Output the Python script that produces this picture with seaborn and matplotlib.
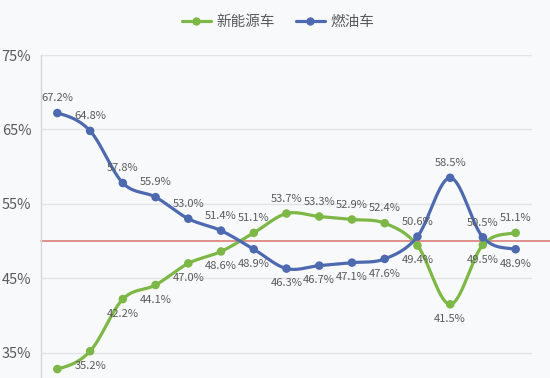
import numpy as np
import pandas as pd
import matplotlib
matplotlib.use("Agg")
import matplotlib.pyplot as plt
from matplotlib.lines import Line2D
import seaborn as sns

# share of sales per period (%)
periods = list(range(15))
ev_share = [32.8, 35.2, 42.2, 44.1, 47.0, 48.6, 51.1, 53.7, 53.3, 52.9, 52.4, 49.4, 41.5, 49.5, 51.1]
ice_share = [67.2, 64.8, 57.8, 55.9, 53.0, 51.4, 48.9, 46.3, 46.7, 47.1, 47.6, 50.6, 58.5, 50.5, 48.9]
series_names = ["新能源车", "燃油车"]
y_ticks = [35, 45, 55, 65, 75]

GREEN = "#7db846"
BLUE = "#4d69b0"
TEXT = "#5a5a5a"
BG = "#f8f9fb"
Y_MIN, Y_MAX = 31.6, 75


def smooth(x, y, n=24):
    # catmull-rom curve through the points, only for drawing the line
    x = np.asarray(x, float)
    y = np.asarray(y, float)
    xs, ys = [], []
    for i in range(len(y) - 1):
        p0 = y[i - 1] if i > 0 else y[i]
        p1, p2 = y[i], y[i + 1]
        p3 = y[i + 2] if i + 2 < len(y) else y[i + 1]
        t = np.linspace(0, 1, n, endpoint=False)
        seg = 0.5 * (2 * p1 + (-p0 + p2) * t + (2 * p0 - 5 * p1 + 4 * p2 - p3) * t ** 2
                     + (-p0 + 3 * p1 - 3 * p2 + p3) * t ** 3)
        xs.append(x[i] + (x[i + 1] - x[i]) * t)
        ys.append(seg)
    xs.append([x[-1]])
    ys.append([y[-1]])
    return np.concatenate(xs), np.concatenate(ys)


sns.set_theme(style="whitegrid")
plt.rcParams["font.family"] = ["Noto Sans CJK SC", "DejaVu Sans"]

fig = plt.figure(figsize=(5.5, 3.78), dpi=100, facecolor=BG)
ax = fig.add_axes([41 / 550, 0, 491 / 550, 1 - 55 / 378])
ax.set_facecolor(BG)

df = pd.DataFrame({"period": periods, series_names[0]: ev_share, series_names[1]: ice_share})

for name, color in zip(series_names, [GREEN, BLUE]):
    sx, sy = smooth(df["period"], df[name])
    sns.lineplot(x=sx, y=sy, ax=ax, color=color, lw=2.3, sort=False, zorder=3)
    sns.scatterplot(x=df["period"], y=df[name], ax=ax, color=color, s=38,
                    edgecolor="none", zorder=4)

# 50% reference line
ax.axhline(50, xmin=0, xmax=(550 - 41) / 491, color="#d9736b", lw=1.1, clip_on=False, zorder=2)

# value labels: above for the larger share, below for the smaller
for i in periods:
    for name, other in [(series_names[0], series_names[1]), (series_names[1], series_names[0])]:
        v = df.loc[i, name]
        up = v > df.loc[i, other]
        if not up and v - 2.5 < Y_MIN:
            continue  # falls below the visible area, as in the source
        ax.annotate(f"{v:.1f}%", (i, v), xytext=(0, 7 if up else -7),
                    textcoords="offset points", ha="center",
                    va="bottom" if up else "top", fontsize=8, color=TEXT, zorder=5)

ax.set_xlim(-0.5, 14.5)
ax.set_ylim(Y_MIN, Y_MAX)
ax.set_yticks(y_ticks)
ax.set_yticklabels([f"{t}%" for t in y_ticks])
ax.set_xticks([])
ax.set_xlabel("")
ax.set_ylabel("")
ax.tick_params(axis="y", length=0, pad=7, labelsize=10.5, labelcolor=TEXT)
ax.grid(axis="y", color="#e3e4e6", lw=1)
ax.grid(axis="x", visible=False)
for side in ["top", "right", "bottom"]:
    ax.spines[side].set_visible(False)
ax.spines["left"].set_color("#d6d6d6")
ax.spines["left"].set_linewidth(1)

handles = [Line2D([0], [0], color=c, lw=2.3, marker="o", markersize=5) for c in [GREEN, BLUE]]
fig.legend(handles, series_names, loc="center", bbox_to_anchor=(0.506, 1 - 22 / 378),
           ncol=2, frameon=False, fontsize=10.5, labelcolor=TEXT,
           handlelength=2.0, handletextpad=0.4, columnspacing=1.4)

fig.savefig("out.png", dpi=100, facecolor=BG)
